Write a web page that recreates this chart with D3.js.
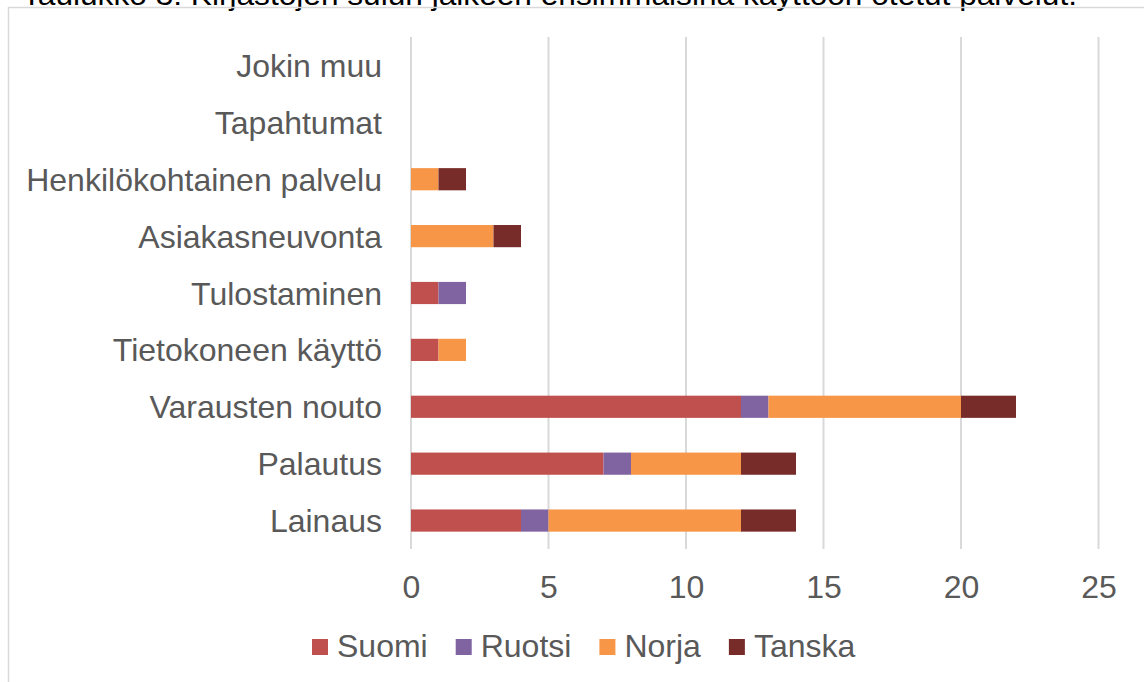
<!DOCTYPE html>
<html lang="fi">
<head>
<meta charset="UTF-8">
<title>Palvelut</title>
<script src="https://d3js.org/d3.v7.min.js"></script>
<style>
  html, body { margin: 0; padding: 0; background: #fff; overflow: hidden; }
  text { font-family: "Liberation Sans", Arial, sans-serif; }
</style>
</head>
<body>
<div id="chart"></div>
<script>
// data (listed top to bottom as in the picture)
const categories = ["Jokin muu", "Tapahtumat", "Henkilökohtainen palvelu", "Asiakasneuvonta",
  "Tulostaminen", "Tietokoneen käyttö", "Varausten nouto", "Palautus", "Lainaus"];
const seriesNames = ["Suomi", "Ruotsi", "Norja", "Tanska"];
const suomi  = [0, 0, 0, 0, 1, 1, 12, 7, 4];
const ruotsi = [0, 0, 0, 0, 1, 0, 1, 1, 1];
const norja  = [0, 0, 1, 3, 0, 1, 7, 4, 7];
const tanska = [0, 0, 1, 1, 0, 0, 2, 2, 2];
const xTicks = [0, 5, 10, 15, 20, 25];
const colors = ["#c0504d", "#8064a2", "#f79646", "#772c2a"];
const title = "Taulukko 3: Kirjastojen sulun jälkeen ensimmäisinä käyttöön otetut palvelut.";

const W = 1144, H = 682;
const svg = d3.select("#chart").append("svg").attr("width", W).attr("height", H);

// title, cut off by the top edge like in the original screenshot
svg.append("text")
  .attr("x", 22).attr("y", 5)
  .attr("textLength", 1055).attr("lengthAdjust", "spacingAndGlyphs")
  .style("font-size", "30px").style("fill", "#000")
  .text(title);

// chart frame
svg.append("rect")
  .attr("x", 8.5).attr("y", 7.5).attr("width", W + 10).attr("height", H + 10)
  .attr("fill", "none").attr("stroke", "#d9d9d9").attr("stroke-width", 1.5);

const x = d3.scaleLinear().domain([0, 25]).range([411, 1098.5]);
const y = d3.scaleBand().domain(categories).range([37, 549])
  .paddingInner(0.61).paddingOuter(0.305);

// gridlines
svg.append("g").selectAll("line").data(xTicks).join("line")
  .attr("x1", d => x(d)).attr("x2", d => x(d))
  .attr("y1", 37).attr("y2", 549)
  .attr("stroke", "#d9d9d9").attr("stroke-width", 2);

// stacked bars
const rows = categories.map((c, i) => ({
  cat: c, Suomi: suomi[i], Ruotsi: ruotsi[i], Norja: norja[i], Tanska: tanska[i]
}));
const stacked = d3.stack().keys(seriesNames)(rows);
const color = d3.scaleOrdinal().domain(seriesNames).range(colors);

svg.append("g").selectAll("g").data(stacked).join("g")
  .attr("fill", d => color(d.key))
  .selectAll("rect").data(d => d).join("rect")
  .attr("x", d => x(d[0]))
  .attr("y", d => y(d.data.cat))
  .attr("width", d => x(d[1]) - x(d[0]))
  .attr("height", y.bandwidth());

// category labels
svg.append("g").selectAll("text").data(categories).join("text")
  .attr("x", 382)
  .attr("y", d => y(d) + y.bandwidth() / 2)
  .attr("dy", "0.36em")
  .attr("text-anchor", "end")
  .style("font-size", "32px").style("fill", "#595959")
  .text(d => d);

// x tick labels
const xAxis = svg.append("g")
  .attr("transform", "translate(0,549)")
  .call(d3.axisBottom(x).tickValues(xTicks).tickSize(0).tickPadding(0));
xAxis.select(".domain").remove();
xAxis.selectAll("text")
  .attr("y", 49).attr("dy", null)
  .style("font-size", "32px").style("fill", "#595959")
  .style("font-family", "'Liberation Sans', Arial, sans-serif");

// legend
const legend = svg.append("g");
let lx = 312;
seriesNames.forEach((s, i) => {
  legend.append("rect").attr("x", lx).attr("y", 639).attr("width", 16).attr("height", 16)
    .attr("fill", colors[i]);
  const t = legend.append("text").attr("x", lx + 25).attr("y", 657)
    .style("font-size", "32px").style("fill", "#595959").text(s);
  lx += 25 + t.node().getComputedTextLength() + 28;
});
</script>
</body>
</html>
